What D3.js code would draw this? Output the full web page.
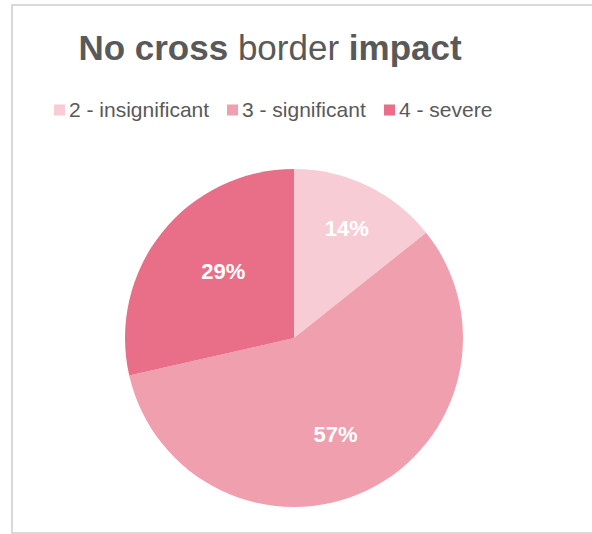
<!DOCTYPE html>
<html>
<head>
<meta charset="utf-8">
<script src="https://cdn.jsdelivr.net/npm/d3@7/dist/d3.min.js"></script>
<style>
  html, body { margin: 0; padding: 0; background: #fff; }
  svg { display: block; }
</style>
</head>
<body>
<svg id="chart" width="592" height="534"></svg>
<script>
// Impact categories and counts of responses
const categories = ["2 - insignificant", "3 - significant", "4 - severe"];
const counts = [1, 4, 2];
const colors = ["#F7CCD5", "#F09FAE", "#E86F87"];
// Title split into bold / regular runs
const titleRuns = [
  { text: "No cross ", bold: true },
  { text: "border ", bold: false },
  { text: "impact", bold: true }
];

const W = 592, H = 534;
const font = "'Liberation Sans', Arial, sans-serif";
const svg = d3.select("#chart");

// chart frame
svg.append("rect")
  .attr("x", 12).attr("y", 5)
  .attr("width", 620).attr("height", 528)
  .attr("fill", "#fff")
  .attr("stroke", "#d9d9d9").attr("stroke-width", 2);

// title
const title = svg.append("text")
  .attr("x", 270).attr("y", 60)
  .attr("text-anchor", "middle")
  .attr("font-family", font)
  .attr("font-size", 35)
  .attr("fill", "#595959");
title.selectAll("tspan").data(titleRuns).join("tspan")
  .attr("font-weight", d => d.bold ? "bold" : "normal")
  .text(d => d.text);

// legend
const legendX = [54, 227, 384];
const legend = svg.append("g");
const items = legend.selectAll("g").data(categories).join("g")
  .attr("transform", (d, i) => `translate(${legendX[i]},0)`);
items.append("rect")
  .attr("x", 0).attr("y", 104.5)
  .attr("width", 11).attr("height", 11)
  .attr("fill", (d, i) => colors[i]);
items.append("text")
  .attr("x", 15).attr("y", 117)
  .attr("font-family", font)
  .attr("font-size", 21)
  .attr("fill", "#595959")
  .text(d => d);

// pie
const cx = 294, cy = 338, R = 169;
const pie = d3.pie().sort(null).value(d => d);
const arcs = pie(counts);
const arc = d3.arc().innerRadius(0).outerRadius(R);
const total = d3.sum(counts);

const g = svg.append("g").attr("transform", `translate(${cx},${cy})`);
g.selectAll("path").data(arcs).join("path")
  .attr("d", arc)
  .attr("fill", (d, i) => colors[i]);

// percentage labels inside slices (radius fraction plus a small nudge)
const labelR = [0.72, 0.62, 0.58];
const labelNudge = [[0, 0], [-4, 2], [6, -6]];
g.selectAll("text.lbl").data(arcs).join("text")
  .attr("class", "lbl")
  .attr("transform", (d, i) => {
    const r = R * labelR[i];
    const a = d3.arc().innerRadius(r).outerRadius(r);
    const [x, y] = a.centroid(d);
    return `translate(${x + labelNudge[i][0]},${y + labelNudge[i][1]})`;
  })
  .attr("text-anchor", "middle")
  .attr("dy", "0.36em")
  .attr("font-family", font)
  .attr("font-weight", "bold")
  .attr("font-size", 22)
  .attr("fill", "#fff")
  .text(d => Math.round(d.value / total * 100) + "%");
</script>
</body>
</html>
